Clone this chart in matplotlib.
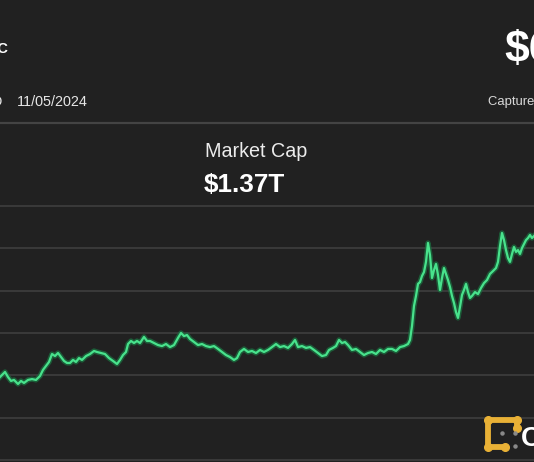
import matplotlib
matplotlib.use("Agg")
import matplotlib.pyplot as plt

# market cap (trillion USD)
dias = [0, 3, 5, 8, 11, 14, 18, 21, 24, 28,
        32, 36, 40, 43, 46, 49, 52, 55, 58, 61,
        64, 67, 70, 73, 76, 79, 82, 86, 90, 94,
        97, 101, 105, 109, 113, 117, 120, 123, 126, 128,
        131, 134, 137, 140, 144, 147, 150, 154, 158, 162,
        166, 170, 174, 178, 181, 184, 187, 190, 194, 198,
        202, 206, 210, 214, 218, 222, 226, 230, 234, 237,
        240, 244, 248, 252, 256, 260, 264, 268, 272, 276,
        280, 284, 288, 292, 295, 298, 302, 306, 310, 314,
        318, 322, 326, 329, 333, 336, 339, 342, 345, 348,
        352, 356, 360, 364, 368, 372, 376, 380, 384, 388,
        392, 396, 400, 404, 408, 410, 412, 414, 416, 418,
        420, 422, 424, 426, 428, 430, 432, 434, 436, 438,
        440, 442, 444, 446, 448, 450, 452, 454, 456, 458,
        460, 462, 464, 466, 468, 470, 472, 475, 478, 481,
        484, 487, 490, 493, 496, 498, 500, 502, 504, 506,
        508, 510, 512, 514, 516, 518, 520, 522, 524, 526,
        528, 530, 532, 534]

market_cap = [0.490, 0.508, 0.520, 0.490, 0.467, 0.473, 0.449, 0.467, 0.455, 0.473,
              0.478, 0.473, 0.496, 0.532, 0.555, 0.579, 0.626, 0.614, 0.632, 0.608,
              0.585, 0.573, 0.573, 0.591, 0.579, 0.602, 0.591, 0.614, 0.626, 0.644,
              0.638, 0.632, 0.626, 0.602, 0.585, 0.567, 0.591, 0.620, 0.638, 0.685,
              0.703, 0.691, 0.703, 0.691, 0.727, 0.703, 0.703, 0.691, 0.679, 0.673,
              0.685, 0.667, 0.679, 0.721, 0.750, 0.732, 0.738, 0.715, 0.697, 0.679,
              0.685, 0.673, 0.667, 0.673, 0.656, 0.638, 0.620, 0.608, 0.591, 0.602,
              0.638, 0.656, 0.638, 0.644, 0.632, 0.650, 0.638, 0.650, 0.667, 0.685,
              0.667, 0.673, 0.662, 0.685, 0.709, 0.667, 0.673, 0.662, 0.667, 0.650,
              0.632, 0.614, 0.620, 0.650, 0.662, 0.673, 0.709, 0.691, 0.697, 0.679,
              0.650, 0.656, 0.638, 0.620, 0.632, 0.638, 0.626, 0.650, 0.638, 0.656,
              0.656, 0.644, 0.667, 0.673, 0.685, 0.709, 0.791, 0.910, 0.969, 1.040,
              1.051, 1.087, 1.110, 1.170, 1.282, 1.211, 1.075, 1.122, 1.158, 1.093,
              1.004, 1.075, 1.134, 1.099, 1.063, 1.022, 0.969, 0.927, 0.874, 0.839,
              0.904, 0.975, 1.004, 1.040, 0.992, 0.957, 0.969, 0.992, 0.980, 1.016,
              1.045, 1.063, 1.099, 1.116, 1.134, 1.170, 1.264, 1.341, 1.299, 1.240,
              1.193, 1.170, 1.217, 1.258, 1.229, 1.240, 1.217, 1.252, 1.276, 1.299,
              1.311, 1.329, 1.311, 1.323]

niveles = [0, 0.25, 0.5, 0.75, 1.0, 1.25, 1.5]

fondo = "#212121"
W, H = 534, 462

fig = plt.figure(figsize=(W / 100, H / 100), dpi=100, facecolor=fondo)

# grafico principal
ax = fig.add_axes([0, 0, 1, 262 / H])
ax.set_facecolor(fondo)
ax.set_xlim(0, 534)
ax.set_ylim(-0.0118, 1.5357)
for n in niveles:
    ax.axhline(n, color="#3a3a3a", lw=1.4, zorder=1)
ax.plot(dias, market_cap, color="#1b7040", lw=3.8, alpha=0.75, zorder=2,
        solid_joinstyle="round")
ax.plot(dias, market_cap, color="#48e28c", lw=1.6, zorder=3,
        solid_joinstyle="round")
ax.set_xticks([])
ax.set_yticks([])
for s in ax.spines.values():
    s.set_visible(False)

# capa de textos en pixeles
top = fig.add_axes([0, 0, 1, 1], facecolor="none")
top.set_xlim(0, W)
top.set_ylim(H, 0)
top.axis("off")

fuente = "Liberation Sans"
top.axhline(123, color="#444444", lw=1.6)
top.text(8, 53, "BTC", color="white", fontsize=10.5, fontweight="bold",
         family=fuente, ha="right", va="baseline")
top.text(3, 106, "USD", color="#e6e6e6", fontsize=10.4,
         family=fuente, ha="right", va="baseline")
top.text(17, 106, "11/05/2024", color="#e6e6e6", fontsize=10.4,
         family=fuente, ha="left", va="baseline")
top.text(488, 105, "Captured at 5:00 PM", color="#d9d9d9", fontsize=9.4,
         family=fuente, ha="left", va="baseline")
top.text(504, 62, "$69,345.12", color="white", fontsize=32, fontweight="bold",
         family=fuente, ha="left", va="baseline")
top.text(205, 157, "Market Cap", color="#ececec", fontsize=14.2,
         family=fuente, ha="left", va="baseline")
top.text(204, 192, "$1.37T", color="white", fontsize=18.8, fontweight="bold",
         family=fuente, ha="left", va="baseline")

# logo
oro = "#e9b136"
top.plot([517, 517, 488, 488, 505], [428, 420, 420, 447, 447], color=oro,
         lw=4.2, solid_capstyle="round", solid_joinstyle="round",
         marker="o", markersize=5.5, markevery=1)
top.plot([502, 515, 515], [433, 433, 446], "o", color="#8a8a8a", markersize=2.2,
         linestyle="none")
top.text(521, 446, "CoinDesk", color="white", fontsize=20, fontweight="bold",
         family=fuente, ha="left", va="baseline")

fig.savefig("out.png", dpi=100, facecolor=fondo)
